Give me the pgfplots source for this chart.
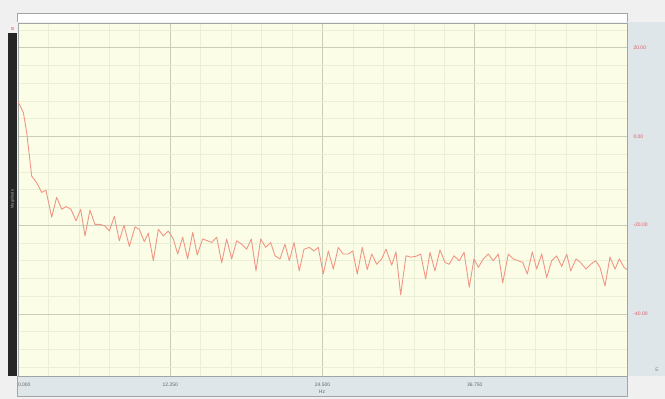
\documentclass[border=0pt]{standalone}
\usepackage{pgfplots}
\pgfplotsset{compat=1.18}
\usepackage{fontspec}
\setmainfont{Liberation Sans}
\definecolor{outerbg}{RGB}{240,240,240}
\definecolor{panel}{RGB}{222,230,233}
\definecolor{plotbg}{RGB}{251,253,230}
\definecolor{majgrid}{RGB}{200,206,186}
\definecolor{mingrid}{RGB}{234,240,214}
\definecolor{lblred}{RGB}{225,90,100}
\definecolor{sig}{RGB}{240,150,135}
\definecolor{frame}{RGB}{160,165,165}
\begin{document}
\begin{tikzpicture}[x=1pt,y=1pt]
\useasboundingbox (0,0) rectangle (665,399);
\fill[outerbg] (0,0) rectangle (665,399);
% top strip
\fill[white] (17,377) rectangle (627,386);
\draw[frame,line width=0.8pt] (17,377) -- (17,386) -- (627,386) -- (627,377);
% right panel
\fill[panel] (627,23) rectangle (665,377);
% bottom panel
\fill[panel] (17,3) rectangle (627,23);
\draw[frame,line width=0.6pt] (17,23) -- (17,3) -- (627,3) -- (627,23);
% left black bar
\fill[black!85] (8,23) rectangle (17,366);
\fill[white!90!gray] (9,366) rectangle (17,375);
\fill[lblred!50] (11,369) rectangle (14,372);
\node[rotate=90,font=\fontsize{4}{4}\selectfont,text=gray!60] at (12.5,200) {Magnitude};
\node[font=\fontsize{5}{5}\selectfont,text=black!60] at (322,7) {Hz};
\node[font=\fontsize{5}{5}\selectfont,text=black!50] at (657,29) {E};
\begin{axis}[
  at={(18pt,23pt)}, anchor=south west,
  scale only axis, width=609pt, height=353pt,
  xmin=0, xmax=49, ymin=-54, ymax=25.6,
  axis background/.style={fill=plotbg},
  axis line style={frame},
  xtick={0,12.25,24.5,36.75},
  xticklabels={\makebox[0pt][l]{0.000},12.250,24.500,36.750},
  ytick={-40,-20,0,20},
  minor xtick={2.45,4.9,7.35,9.8,14.7,17.15,19.6,22.05,26.95,29.4,31.85,34.3,39.2,41.65,44.1,46.55},
  minor ytick={-52,-48,-44,-36,-32,-28,-24,-16,-12,-8,-4,4,8,12,16,24},
  major tick length=0pt, minor tick length=0pt,
  grid=both,
  major grid style={majgrid, line width=0.8pt},
  minor grid style={mingrid, line width=0.6pt},
  yticklabel pos=right,
  yticklabel style={anchor=west, xshift=3pt, text=lblred, font=\fontsize{5}{5}\selectfont,
    /pgf/number format/.cd, fixed, fixed zerofill, precision=2, assume math mode=true},
  xticklabel style={text=black!60, font=\fontsize{5}{5}\selectfont, yshift=-3pt},
  /pgf/number format/assume math mode=true,
  clip=true,
]
\addplot[sig, line width=0.9pt, line join=round] coordinates {
(0,7.9) (0.43,5.4) (0.70,0.9) (1.10,-8.9) (1.50,-10.4) (1.91,-12.6) (2.25,-12.1)
(2.71,-18.2) (3.11,-13.7) (3.52,-16.4) (3.86,-15.8) (4.26,-16.4) (4.67,-19.0)
(5.04,-16.4) (5.39,-22.4) (5.79,-16.6) (6.19,-19.8) (6.60,-19.8) (7.00,-20.2)
(7.35,-21.3) (7.75,-18.0) (8.15,-23.5) (8.53,-20.0) (8.96,-24.8) (9.41,-20.4)
(9.76,-20.9) (10.16,-23.7) (10.48,-21.8) (10.89,-28.0) (11.29,-20.9) (11.69,-22.4)
(12.09,-21.3) (12.50,-23.1) (12.85,-26.5) (13.25,-22.7) (13.65,-27.6) (14.06,-21.6)
(14.42,-26.7) (14.86,-23.1) (15.23,-23.5) (15.59,-23.9) (15.99,-22.7) (16.39,-28.5)
(16.79,-23.1) (17.19,-27.6) (17.60,-23.5) (18.00,-24.3) (18.40,-25.4) (18.77,-23.1)
(19.15,-30.3) (19.53,-23.1) (19.93,-25.0) (20.33,-23.9) (20.68,-26.9) (21.08,-27.6)
(21.48,-24.3) (21.83,-28.0) (22.21,-23.9) (22.63,-30.3) (23.01,-25.4) (23.44,-25.0)
(23.82,-25.8) (24.16,-25.0) (24.56,-31.0) (24.97,-25.8) (25.37,-29.9) (25.77,-25.0)
(26.17,-26.5) (26.58,-26.5) (26.93,-25.8) (27.30,-31.0) (27.70,-25.0) (28.10,-30.0)
(28.46,-26.5) (28.86,-28.8) (29.26,-27.6) (29.61,-25.4) (30.07,-29.0) (30.41,-26.0)
(30.79,-35.7) (31.22,-26.9) (31.62,-27.2) (32.02,-27.0) (32.40,-26.5) (32.80,-32.1)
(33.15,-26.1) (33.55,-30.3) (33.95,-25.6) (34.36,-28.4) (34.70,-28.8) (35.08,-26.9)
(35.51,-28.0) (35.89,-26.1) (36.31,-34.0) (36.69,-27.6) (37.04,-29.5) (37.44,-27.6)
(37.84,-26.5) (38.24,-28.0) (38.65,-26.5) (39.00,-33.0) (39.45,-26.5) (39.85,-27.6)
(40.25,-28.0) (40.61,-28.4) (40.98,-31.0) (41.38,-26.0) (41.73,-29.9) (42.14,-26.5)
(42.54,-31.8) (42.94,-28.0) (43.34,-26.9) (43.75,-29.3) (44.15,-26.5) (44.47,-30.3)
(44.90,-27.6) (45.27,-28.4) (45.70,-29.9) (46.08,-28.8) (46.48,-28.0) (46.83,-29.5)
(47.23,-33.7) (47.63,-27.2) (48.04,-29.9) (48.38,-27.6) (48.76,-29.5) (49.0,-30.0)
};
\end{axis}
\end{tikzpicture}
\end{document}
